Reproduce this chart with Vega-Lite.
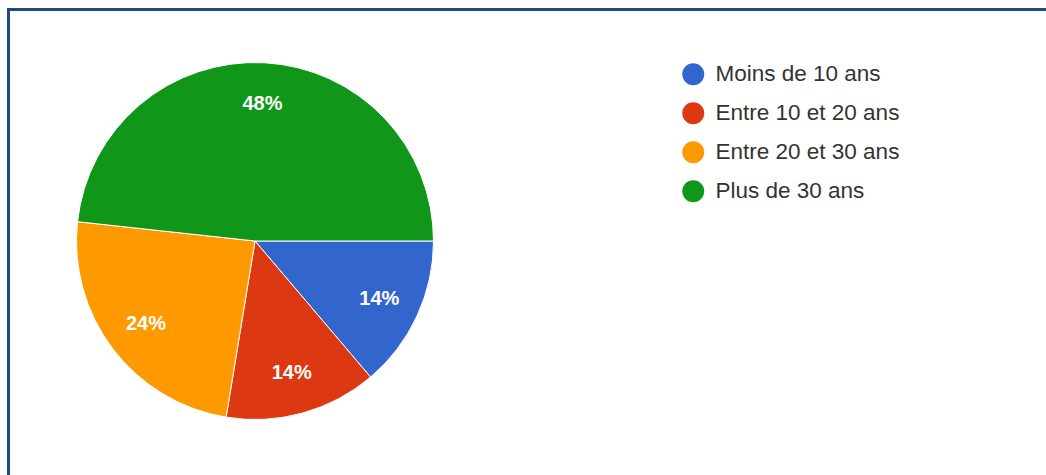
{
  "$schema": "https://vega.github.io/schema/vega-lite/v6.json",
  "autosize": {"type": "none"},
  "width": 1037.5,
  "height": 465.5,
  "padding": {"left": 8.5, "top": 9.5, "right": 0, "bottom": 0},
  "background": "white",
  "view": {"stroke": "#1f4a7c", "strokeWidth": 3, "strokeDash": [1037.5, 1503, 465.5], "fill": "white"},
  "config": {
    "view": {"stroke": "#1f4a7c", "strokeWidth": 3, "strokeDash": [1037.5, 1503, 465.5]},
    "font": "Liberation Sans"
  },
  "data": {
    "values": [
      {"tranche": "Moins de 10 ans", "n": 4, "pct": "14%", "ordre": 1},
      {"tranche": "Entre 10 et 20 ans", "n": 4, "pct": "14%", "ordre": 2},
      {"tranche": "Entre 20 et 30 ans", "n": 7, "pct": "24%", "ordre": 3},
      {"tranche": "Plus de 30 ans", "n": 14, "pct": "48%", "ordre": 4}
    ]
  },
  "encoding": {
    "theta": {"field": "n", "type": "quantitative", "stack": true, "scale": {"range": [1.5708, 7.854]}},
    "order": {"field": "ordre", "type": "quantitative"}
  },
  "layer": [
    {
      "mark": {"type": "arc", "outerRadius": 178.5, "x": 246.5, "y": 231.5, "stroke": "white", "strokeWidth": 1},
      "encoding": {
        "color": {
          "field": "tranche",
          "type": "nominal",
          "sort": null,
          "scale": {
            "domain": ["Moins de 10 ans", "Entre 10 et 20 ans", "Entre 20 et 30 ans", "Plus de 30 ans"],
            "range": ["#3366cc", "#dc3912", "#ff9900", "#109618"]
          },
          "legend": {
            "title": null,
            "orient": "none",
            "legendX": 673.5,
            "legendY": 53.5,
            "symbolType": "circle",
            "symbolSize": 484,
            "symbolStrokeWidth": 0,
            "labelFontSize": 22.5,
            "labelColor": "#333333",
            "labelOffset": 11,
            "rowPadding": 16,
            "labelLimit": 400
          }
        }
      }
    },
    {
      "mark": {"type": "text", "radius": 137, "x": 246.5, "y": 231.5, "fontWeight": "bold", "fontSize": 20, "baseline": "middle", "align": "center"},
      "encoding": {
        "text": {"field": "pct", "type": "nominal"},
        "color": {"value": "white"}
      }
    }
  ]
}
